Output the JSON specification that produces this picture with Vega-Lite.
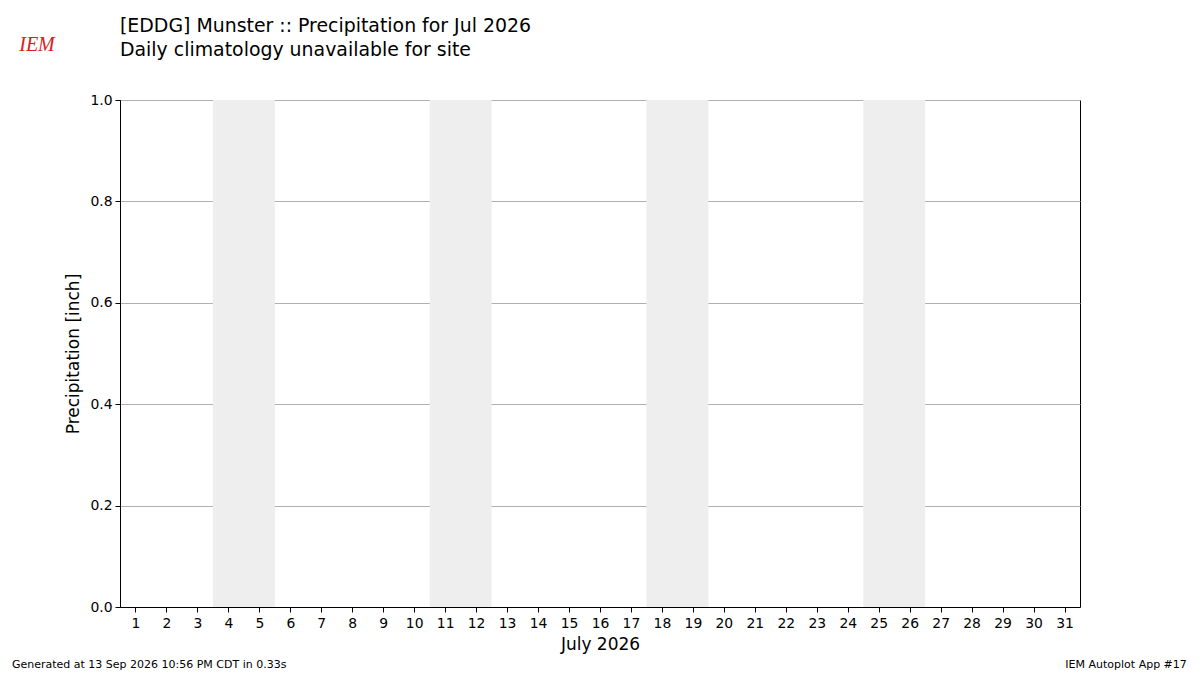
{
  "$schema": "https://vega.github.io/schema/vega-lite/v6.json",
  "autosize": "none",
  "width": 960,
  "height": 507,
  "padding": {"left": 120, "top": 100, "right": 120, "bottom": 68},
  "background": "white",
  "title": {
    "text": "[EDDG] Munster :: Precipitation for Jul 2026",
    "subtitle": "Daily climatology unavailable for site",
    "anchor": "start",
    "frame": "group",
    "font": "DejaVu Sans",
    "fontSize": 18.9,
    "fontWeight": "normal",
    "color": "black",
    "subtitleFont": "DejaVu Sans",
    "subtitleFontSize": 18.9,
    "subtitleColor": "black",
    "subtitlePadding": 5,
    "offset": -25
  },
  "config": {
    "view": {"stroke": "black", "strokeWidth": 1},
    "axis": {
      "labelFont": "DejaVu Sans",
      "titleFont": "DejaVu Sans",
      "labelFontSize": 13.9,
      "titleFontSize": 17,
      "titleFontWeight": "normal",
      "labelColor": "black",
      "titleColor": "black",
      "tickColor": "black",
      "domainColor": "black",
      "tickSize": 5,
      "labelOverlap": false
    }
  },
  "layer": [
    {
      "data": {"values": [
        {"weekend": "Jul 4-5", "from": 3.5, "to": 5.5},
        {"weekend": "Jul 11-12", "from": 10.5, "to": 12.5},
        {"weekend": "Jul 18-19", "from": 17.5, "to": 19.5},
        {"weekend": "Jul 25-26", "from": 24.5, "to": 26.5}
      ]},
      "mark": {"type": "rect", "color": "#eeeeee"},
      "encoding": {
        "x": {
          "field": "from", "type": "quantitative",
          "scale": {"domain": [0.5, 31.5], "nice": false, "zero": false},
          "axis": {
            "title": "July 2026",
            "values": [1,2,3,4,5,6,7,8,9,10,11,12,13,14,15,16,17,18,19,20,21,22,23,24,25,26,27,28,29,30,31],
            "format": "d", "grid": false, "labelOverlap": false, "labelPadding": 4, "titlePadding": 7
          }
        },
        "x2": {"field": "to"},
        "y": {
          "datum": 0, "type": "quantitative",
          "scale": {"domain": [0, 1], "nice": false},
          "axis": {
            "title": "Precipitation [inch]",
            "values": [0, 0.2, 0.4, 0.6, 0.8, 1.0],
            "format": ".1f", "grid": true, "gridColor": "#b0b0b0", "gridWidth": 1, "labelOverlap": false, "labelPadding": 3, "titlePadding": 7
          }
        },
        "y2": {"datum": 1}
      }
    },
    {
      "data": {"values": [
        {"note": "Generated at 13 Sep 2026 10:56 PM CDT in 0.33s", "side": "left"}
      ]},
      "mark": {"type": "text", "align": "left", "baseline": "middle", "font": "DejaVu Sans", "fontSize": 11, "color": "black", "clip": false},
      "encoding": {
        "text": {"field": "note"},
        "x": {
          "datum": -2.99, "type": "quantitative",
          "scale": {"domain": [0.5, 31.5], "nice": false, "zero": false},
          "axis": {
            "title": "July 2026",
            "values": [1,2,3,4,5,6,7,8,9,10,11,12,13,14,15,16,17,18,19,20,21,22,23,24,25,26,27,28,29,30,31],
            "format": "d", "grid": false, "labelOverlap": false, "labelPadding": 4, "titlePadding": 7
          }
        },
        "y": {
          "datum": -0.114, "type": "quantitative",
          "scale": {"domain": [0, 1], "nice": false},
          "axis": {
            "title": "Precipitation [inch]",
            "values": [0, 0.2, 0.4, 0.6, 0.8, 1.0],
            "format": ".1f", "grid": true, "gridColor": "#b0b0b0", "gridWidth": 1, "labelOverlap": false, "labelPadding": 3, "titlePadding": 7
          }
        }
      }
    },
    {
      "data": {"values": [
        {"note": "IEM Autoplot App #17", "side": "right"}
      ]},
      "mark": {"type": "text", "align": "right", "baseline": "middle", "font": "DejaVu Sans", "fontSize": 11, "color": "black", "clip": false},
      "encoding": {
        "text": {"field": "note"},
        "x": {
          "datum": 34.95, "type": "quantitative",
          "scale": {"domain": [0.5, 31.5], "nice": false, "zero": false},
          "axis": {
            "title": "July 2026",
            "values": [1,2,3,4,5,6,7,8,9,10,11,12,13,14,15,16,17,18,19,20,21,22,23,24,25,26,27,28,29,30,31],
            "format": "d", "grid": false, "labelOverlap": false, "labelPadding": 4, "titlePadding": 7
          }
        },
        "y": {
          "datum": -0.114, "type": "quantitative",
          "scale": {"domain": [0, 1], "nice": false},
          "axis": {
            "title": "Precipitation [inch]",
            "values": [0, 0.2, 0.4, 0.6, 0.8, 1.0],
            "format": ".1f", "grid": true, "gridColor": "#b0b0b0", "gridWidth": 1, "labelOverlap": false, "labelPadding": 3, "titlePadding": 7
          }
        }
      }
    },
    {
      "data": {"values": [
        {"logo": "IEM"}
      ]},
      "mark": {"type": "text", "align": "center", "baseline": "middle", "font": "Liberation Serif", "fontStyle": "italic", "fontSize": 20, "color": "#d62020", "clip": false},
      "encoding": {
        "text": {"field": "logo"},
        "x": {
          "datum": -2.18, "type": "quantitative",
          "scale": {"domain": [0.5, 31.5], "nice": false, "zero": false},
          "axis": {
            "title": "July 2026",
            "values": [1,2,3,4,5,6,7,8,9,10,11,12,13,14,15,16,17,18,19,20,21,22,23,24,25,26,27,28,29,30,31],
            "format": "d", "grid": false, "labelOverlap": false, "labelPadding": 4, "titlePadding": 7
          }
        },
        "y": {
          "datum": 1.108, "type": "quantitative",
          "scale": {"domain": [0, 1], "nice": false},
          "axis": {
            "title": "Precipitation [inch]",
            "values": [0, 0.2, 0.4, 0.6, 0.8, 1.0],
            "format": ".1f", "grid": true, "gridColor": "#b0b0b0", "gridWidth": 1, "labelOverlap": false, "labelPadding": 3, "titlePadding": 7
          }
        }
      }
    }
  ]
}
